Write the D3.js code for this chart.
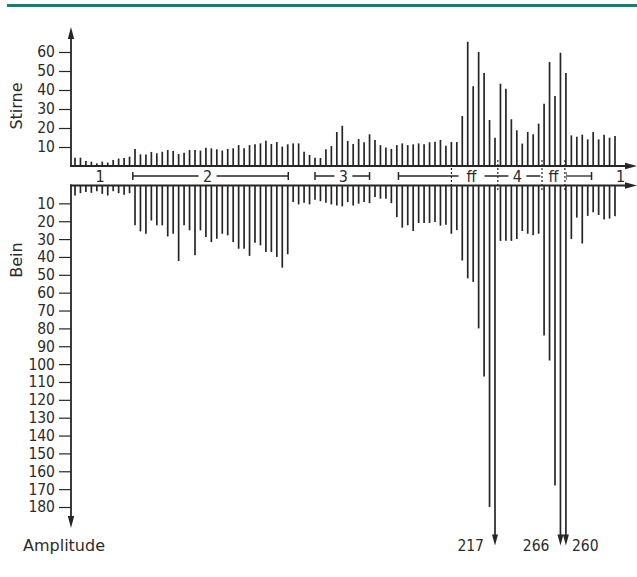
<!DOCTYPE html>
<html>
<head>
<meta charset="utf-8">
<script src="https://cdn.jsdelivr.net/npm/d3@7"></script>
<style>
  body { margin: 0; background: #fff; }
  svg text { font-family: "DejaVu Sans Condensed", "DejaVu Sans", sans-serif; fill: #2b2b2b; }
  svg text.title { font-family: "DejaVu Sans", sans-serif; }
</style>
</head>
<body>
<svg id="chart" width="637" height="577"></svg>
<script>
// amplitude per beat, upper trace (Stirne)
const stirne = [
  4.4, 4.4, 2.6, 2.3, 1.4, 2.3, 1.8, 3.2, 3.9, 4.2, 4.9,
  9, 6.1, 6.1, 7.4, 6.7, 7.5, 8.4, 7.9, 6.3, 7, 8.4, 8.4, 8.1, 9.6, 9.3, 8.8, 8.1, 9, 9.3, 11, 9.3, 11, 11.4,
  11.9, 13.3, 11.6, 12.6, 10.2, 11.4, 11.9, 11.9, 7.5, 5.8, 4.4, 4.2, 8.8, 10.5, 17.9, 21.2,
  13.2, 11.6, 14.2, 12.5, 16.7, 13.7, 11, 9.8, 9, 11, 11.9, 11, 11.4, 11.9, 11.4, 12.5, 12.8, 13.7, 10.7,
  12.6, 12.6, 26.3, 65.4, 42, 60, 49, 24.2, 14.9, 43.3, 40.7, 24.6, 18.8, 11.8, 17.9, 16.7, 22.3, 32.8,
  54.7, 36.8, 59.6, 49, 16.1, 15.4, 16.5, 14, 17.9, 14, 16.5, 14.9, 15.8
]
// amplitude per beat, lower trace (Bein)
const bein = [
  5.6, 4.3, 3.7, 4.1, 3.2, 4.7, 5.6, 3.2, 4.3, 5.2, 4.3,
  22.3, 25.7, 27, 19.6, 22.3, 22.3, 28.5, 27, 42.3, 22.3, 25.1, 39.1, 25.1, 28.9, 31.7, 29.8, 27, 27.9, 31.7, 35.4, 35.4, 39.4, 32,
  33.5, 37.2, 37.2, 40, 46, 38.5, 9.3, 10.6, 9.7, 10.6, 8, 8.8, 9.7, 10.6, 11.2, 11.7,
  9.3, 11.2, 10.2, 9.3, 9.9, 6.5, 7.4, 7.4, 9.9, 17.7, 23.6, 22.3, 25.5, 21,
  21, 21, 20.5, 22.5, 22, 27, 25, 42, 52, 54, 80, 107, 180, 217, 31, 31, 31, 30, 25.5, 27,
  27.8, 27, 84, 98, 168, 266, 260, 30, 18, 32.5, 17, 15, 16.5, 19, 18.5, 17.2
]
const stirneTicks = [10, 20, 30, 40, 50, 60]
const beinTicks = [10, 20, 30, 40, 50, 60, 70, 80, 90, 100, 110, 120, 130, 140, 150, 160, 170, 180]

// phases along the beat axis (in beat units)
const phaseLabels = ["1", "2", "3", "ff", "4", "ff", "1"]
const phaseAt = [5.6, 25.3, 50.2, 73.7, 82.1, 88.7, 101]
const phaseBrackets = [[11.6, 40.1], [45, 55], [60.3, 91], [91, 95.7]]
const phaseDividers = [70.2, 78.7, 86.8, 91]

const ink = "#262626"
const svg = d3.select("#chart")
const beats = stirne.map((d, i) => i + 1)

const x = d3.scaleLinear().domain([1, beats.length]).range([75, 615])
const yTop = d3.scaleLinear().domain([0, 60]).range([166, 52])
const yLow = d3.scaleLinear().domain([0, 180]).range([185.5, 507])
const clipAt = 201 // bars beyond this are cut and get an arrow

// teal rule at the top
svg.append("line")
  .attr("x1", 7).attr("x2", 637).attr("y1", 5.5).attr("y2", 5.5)
  .attr("stroke", "#138072").attr("stroke-width", 3)

// bars
svg.append("g").selectAll("line")
  .data(beats)
  .enter().append("line")
  .attr("x1", d => x(d)).attr("x2", d => x(d))
  .attr("y1", yTop(0)).attr("y2", d => yTop(stirne[d - 1]))
  .attr("stroke", ink).attr("stroke-width", 1.7)

svg.append("g").selectAll("line")
  .data(beats)
  .enter().append("line")
  .attr("x1", d => x(d)).attr("x2", d => x(d))
  .attr("y1", yLow(0))
  .attr("y2", d => bein[d - 1] > clipAt ? yLow(clipAt) - 8 : yLow(bein[d - 1]))
  .attr("stroke", ink).attr("stroke-width", 1.7)

// cut bars: arrowhead + true value
const cut = beats.filter(d => bein[d - 1] > clipAt)
svg.append("g").selectAll("path")
  .data(cut)
  .enter().append("path")
  .attr("d", d => {
    let tip = yLow(clipAt) + 1, cx = x(d)
    return `M${cx},${tip} L${cx - 3},${tip - 11} L${cx + 3},${tip - 11} Z`
  })
  .attr("fill", ink)

svg.append("g").selectAll("text")
  .data(cut)
  .enter().append("text")
  .attr("x", (d, i) => i === cut.length - 1 ? x(d) + 6 : x(d) - 11)
  .attr("y", yLow(clipAt) + 6)
  .attr("text-anchor", (d, i) => i === cut.length - 1 ? "start" : "end")
  .attr("font-size", 15.5)
  .text(d => bein[d - 1])

// axes lines with arrows
function arrowLine(x1, y1, x2, y2) {
  let ang = Math.atan2(y2 - y1, x2 - x1)
  let len = 12, w = 3.2
  let bx = x2 - len * Math.cos(ang), by = y2 - len * Math.sin(ang)
  svg.append("line")
    .attr("x1", x1).attr("y1", y1).attr("x2", bx).attr("y2", by)
    .attr("stroke", ink).attr("stroke-width", 1.8)
  svg.append("path")
    .attr("d", `M${x2},${y2} L${bx - w * Math.sin(ang)},${by + w * Math.cos(ang)} L${bx + w * Math.sin(ang)},${by - w * Math.cos(ang)} Z`)
    .attr("fill", ink)
}
arrowLine(71, yTop(0) + 1, 71, 27)
arrowLine(70, yTop(0), 637, yTop(0))
arrowLine(70, yLow(0), 637, yLow(0))
arrowLine(71, yLow(0) - 1, 71, 528)

// tick marks + labels
function ticks(scale, values) {
  let g = svg.append("g")
    .attr("transform", "translate(71,0)")
    .call(d3.axisLeft(scale).tickValues(values).tickSize(12).tickPadding(4))
  g.select(".domain").remove()
  g.selectAll(".tick line").attr("stroke", ink).attr("stroke-width", 1.2)
  g.selectAll(".tick text")
    .attr("font-size", 15.5)
    .style("font-family", '"DejaVu Sans Condensed", "DejaVu Sans", sans-serif')
    .attr("fill", "#2b2b2b")
}
ticks(yTop, stirneTicks)
ticks(yLow, beinTicks)

// phase brackets
const segY = 176
const brackets = svg.append("g")
phaseBrackets.forEach(b => {
  brackets.append("line")
    .attr("x1", x(b[0])).attr("x2", x(b[1])).attr("y1", segY).attr("y2", segY)
    .attr("stroke", ink).attr("stroke-width", 1.3)
  b.forEach(v => brackets.append("line")
    .attr("x1", x(v)).attr("x2", x(v)).attr("y1", segY - 4).attr("y2", segY + 4)
    .attr("stroke", ink).attr("stroke-width", 1.5))
})
// knock-out behind labels
phaseLabels.forEach((t, i) => {
  let w = t.length * 8 + 10
  brackets.append("rect")
    .attr("x", x(phaseAt[i]) - w / 2).attr("y", segY - 6)
    .attr("width", w).attr("height", 12).attr("fill", "#fff")
  brackets.append("text")
    .attr("x", x(phaseAt[i])).attr("y", segY + 6)
    .attr("text-anchor", "middle").attr("font-size", 16)
    .text(t)
})
phaseDividers.forEach(v => {
  brackets.append("line")
    .attr("x1", x(v) - 1).attr("x2", x(v) - 1).attr("y1", 160).attr("y2", 191)
    .attr("stroke", ink).attr("stroke-width", 1.2).attr("stroke-dasharray", "2,2")
})

// axis titles
svg.append("text").attr("class", "title")
  .attr("transform", "translate(22,106) rotate(-90)")
  .attr("text-anchor", "middle").attr("font-size", 16)
  .text("Stirne")
svg.append("text").attr("class", "title")
  .attr("transform", "translate(22,260) rotate(-90)")
  .attr("text-anchor", "middle").attr("font-size", 16)
  .text("Bein")
svg.append("text").attr("class", "title")
  .attr("x", 23).attr("y", 551).attr("font-size", 16)
  .text("Amplitude")
</script>
</body>
</html>
